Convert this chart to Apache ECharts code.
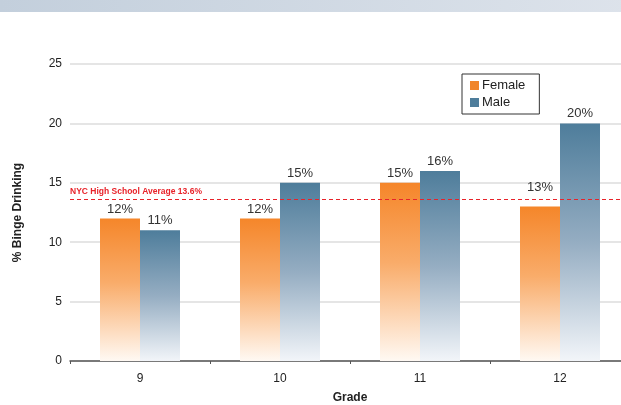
<!DOCTYPE html>
<html>
<head>
<meta charset="utf-8">
<script src="https://cdn.jsdelivr.net/npm/echarts@6/dist/echarts.min.js"></script>
<style>
html,body{margin:0;padding:0;background:#fff;overflow:hidden;}
#c{width:630px;height:405px;}
</style>
</head>
<body>
<div id="c"></div>
<script>
var categories = ['9', '10', '11', '12'];
var female = [12, 12, 15, 13];
var male = [11, 15, 16, 20];
var average = 13.6;
var yTicks = [0, 5, 10, 15, 20, 25];

var font = 'Helvetica, "Liberation Sans", Arial, sans-serif';
var red = '#e8232a';
var chart = echarts.init(document.getElementById('c'));

// the 13% label in grade 12 is lifted above the average line
var femaleData = female.map(function (v, i) {
  return i === 3 ? { value: v, label: { distance: 13 } } : v;
});

chart.setOption({
  animation: false,
  textStyle: { fontFamily: font },
  graphic: [{
    type: 'rect',
    shape: { x: 0, y: 0, width: 630, height: 12 },
    style: {
      fill: new echarts.graphic.LinearGradient(0, 0, 1, 0, [
        { offset: 0, color: '#c3cfdc' },
        { offset: 1, color: '#dde3eb' }
      ])
    },
    silent: true
  }, {
    type: 'text',
    x: 350,
    y: 398,
    silent: true,
    style: {
      text: 'Grade',
      fill: '#222',
      font: 'bold 12px ' + font,
      align: 'center',
      verticalAlign: 'middle'
    }
  }],
  legend: {
    data: [
      { name: 'Female', itemStyle: { color: '#f0852a' } },
      { name: 'Male', itemStyle: { color: '#4e7d9b' } }
    ],
    orient: 'vertical',
    left: 462,
    top: 74,
    width: 75,
    itemWidth: 9,
    itemHeight: 9,
    itemGap: 4,
    padding: [5, 14, 5, 8],
    borderColor: '#333',
    borderWidth: 1,
    icon: 'rect',
    textStyle: { fontSize: 13, color: '#222', fontFamily: font, padding: [0, 0, 0, -2] }
  },
  grid: { left: 70, top: 64, right: 0, bottom: 44, containLabel: false },
  xAxis: {
    type: 'category',
    data: categories,
    axisLine: { lineStyle: { color: '#555', width: 1.5 } },
    axisTick: { show: true, length: 3, lineStyle: { color: '#555' } },
    axisLabel: { fontSize: 12, color: '#222', margin: 12 }
  },
  yAxis: {
    type: 'value',
    min: 0,
    max: 25,
    interval: 5,
    name: '% Binge Drinking',
    nameLocation: 'middle',
    nameRotate: 90,
    nameGap: 46,
    nameTextStyle: { fontWeight: 'bold', fontSize: 12, color: '#222', fontFamily: font },
    axisLine: { show: false },
    axisTick: { show: false },
    axisLabel: { fontSize: 12, color: '#222', margin: 8,
      formatter: function (v) { return yTicks.indexOf(v) >= 0 ? String(v) : ''; } },
    splitLine: { lineStyle: { color: '#dcdcdc', width: 1.5 } }
  },
  series: [{
    name: 'Female',
    type: 'bar',
    data: femaleData,
    barWidth: 40,
    barGap: '0%',
    itemStyle: {
      color: new echarts.graphic.LinearGradient(0, 0, 0, 1, [
        { offset: 0, color: '#f5862a' },
        { offset: 0.45, color: '#f9ac6a' },
        { offset: 1, color: '#fff9f3' }
      ])
    },
    label: { show: true, position: 'top', formatter: '{c}%', fontSize: 13, color: '#333', distance: 3 },
    markLine: {
      silent: true,
      symbol: 'none',
      data: [{ yAxis: average }],
      lineStyle: { color: red, type: [4, 3], width: 1 },
      label: {
        show: true,
        position: 'insideStartTop',
        formatter: 'NYC High School Average 13.6%',
        color: red,
        fontWeight: 'bold',
        fontSize: 8.5,
        distance: [0, 3]
      }
    }
  }, {
    name: 'Male',
    type: 'bar',
    data: male,
    barWidth: 40,
    itemStyle: {
      color: new echarts.graphic.LinearGradient(0, 0, 0, 1, [
        { offset: 0, color: '#4e7d9b' },
        { offset: 0.5, color: '#95adc2' },
        { offset: 1, color: '#f2f5f9' }
      ])
    },
    label: { show: true, position: 'top', formatter: '{c}%', fontSize: 13, color: '#333', distance: 3 }
  }]
});
</script>
</body>
</html>
